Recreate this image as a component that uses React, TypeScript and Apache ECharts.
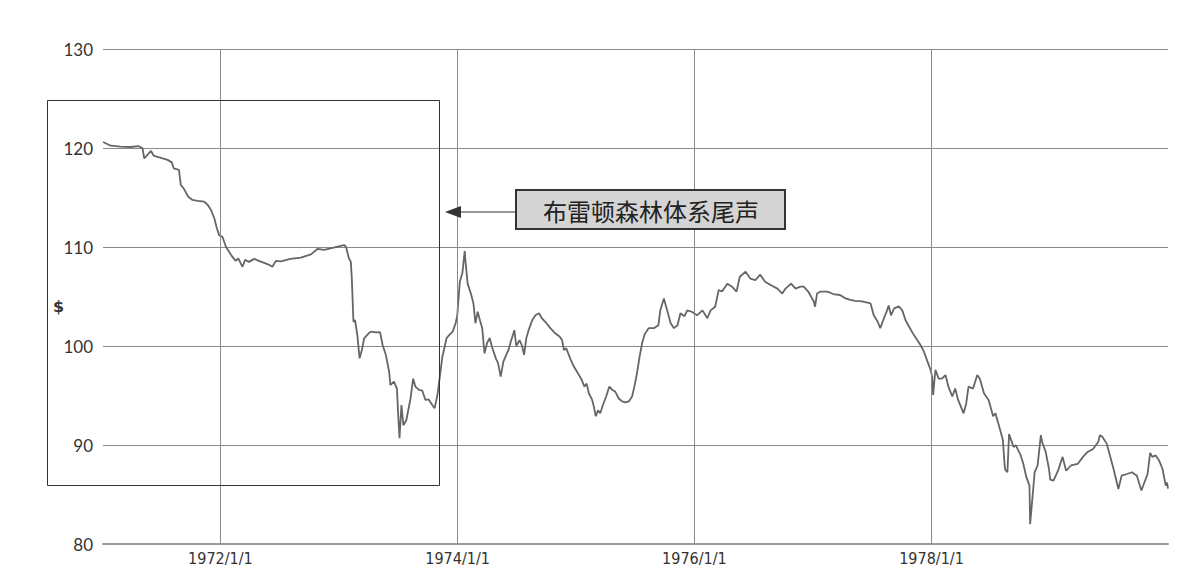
import React, { useEffect, useRef } from "react";
import * as echarts from "echarts";

// Y axis scale
const yMin = 80;
const yMax = 130;
const yStep = 10;

// X axis range and labelled dates
const xStart = "1971-01-04";
const xEnd = "1979-12-31";
const yearMarks = ["1972-01-01", "1974-01-01", "1976-01-01", "1978-01-01"];

const axisName = "$";
const calloutText = "布雷顿森林体系尾声";

// Dollar index, 1971-1979: [date, value]
const dollarIndex: [string, number][] = [
  ["1971-01-04", 120.6], ["1971-01-28", 120.23], ["1971-02-26", 120.13], ["1971-03-31", 120.1],
  ["1971-04-23", 120.2], ["1971-05-06", 119.97], ["1971-05-11", 118.96], ["1971-05-21", 119.3],
  ["1971-06-01", 119.7], ["1971-06-10", 119.2], ["1971-07-02", 119.0], ["1971-07-22", 118.8],
  ["1971-08-04", 118.55], ["1971-08-10", 117.95], ["1971-08-26", 117.8], ["1971-09-01", 116.26],
  ["1971-09-10", 115.9], ["1971-09-24", 115.08], ["1971-10-07", 114.75], ["1971-10-22", 114.65],
  ["1971-11-12", 114.58], ["1971-11-23", 114.24], ["1971-12-03", 113.74], ["1971-12-13", 112.9],
  ["1971-12-21", 111.9], ["1971-12-28", 111.2],
  ["1972-01-07", 111.04], ["1972-01-18", 110.03], ["1972-01-28", 109.5], ["1972-02-07", 109.0],
  ["1972-02-17", 108.6], ["1972-02-25", 108.86], ["1972-03-09", 108.0], ["1972-03-17", 108.7],
  ["1972-03-29", 108.5], ["1972-04-14", 108.8], ["1972-04-28", 108.6], ["1972-05-15", 108.4],
  ["1972-05-30", 108.2], ["1972-06-09", 108.0], ["1972-06-20", 108.6], ["1972-07-05", 108.55],
  ["1972-08-04", 108.8], ["1972-09-05", 108.92], ["1972-10-06", 109.26], ["1972-10-26", 109.8],
  ["1972-11-16", 109.7], ["1972-12-15", 109.93],
  ["1973-01-16", 110.2], ["1973-01-22", 110.03], ["1973-01-31", 108.86], ["1973-02-06", 108.5],
  ["1973-02-09", 106.8], ["1973-02-14", 102.45], ["1973-02-19", 102.6], ["1973-02-26", 101.1],
  ["1973-03-05", 98.75], ["1973-03-12", 99.6], ["1973-03-19", 100.78], ["1973-04-02", 101.28],
  ["1973-04-09", 101.45], ["1973-04-24", 101.38], ["1973-05-07", 101.4], ["1973-05-15", 100.1],
  ["1973-05-25", 99.1], ["1973-06-04", 97.4], ["1973-06-08", 96.06], ["1973-06-19", 96.4],
  ["1973-06-28", 95.7], ["1973-07-02", 93.03], ["1973-07-06", 90.68], ["1973-07-12", 94.04],
  ["1973-07-18", 92.0], ["1973-07-27", 92.5], ["1973-08-09", 94.7], ["1973-08-17", 96.7],
  ["1973-08-24", 95.9], ["1973-09-04", 95.56], ["1973-09-14", 95.5], ["1973-09-24", 94.55],
  ["1973-10-04", 94.6], ["1973-10-15", 94.04], ["1973-10-22", 93.7], ["1973-10-31", 95.05],
  ["1973-11-08", 97.07], ["1973-11-15", 98.9], ["1973-11-20", 99.6], ["1973-11-28", 100.78],
  ["1973-12-06", 101.1], ["1973-12-17", 101.45], ["1973-12-26", 102.3], ["1973-12-31", 103.1],
  ["1974-01-08", 106.5], ["1974-01-16", 107.4], ["1974-01-23", 109.6], ["1974-01-25", 108.7],
  ["1974-02-01", 106.3], ["1974-02-11", 105.3], ["1974-02-19", 104.3], ["1974-02-25", 102.3],
  ["1974-03-04", 103.46], ["1974-03-11", 102.6], ["1974-03-18", 101.8], ["1974-03-25", 99.26],
  ["1974-04-02", 100.3], ["1974-04-10", 100.8], ["1974-04-17", 99.93], ["1974-04-29", 98.75],
  ["1974-05-06", 98.25], ["1974-05-14", 96.9], ["1974-05-22", 98.4], ["1974-05-31", 99.1],
  ["1974-06-07", 99.6], ["1974-06-14", 100.43], ["1974-06-25", 101.6], ["1974-07-01", 100.0],
  ["1974-07-11", 100.6], ["1974-07-19", 100.0], ["1974-07-25", 99.1], ["1974-08-01", 100.8],
  ["1974-08-08", 101.6], ["1974-08-19", 102.6], ["1974-08-29", 103.1], ["1974-09-09", 103.3],
  ["1974-09-18", 102.8], ["1974-10-02", 102.3], ["1974-10-14", 101.8], ["1974-10-29", 101.28],
  ["1974-11-12", 100.94], ["1974-11-19", 100.6], ["1974-11-25", 99.6], ["1974-12-02", 99.77],
  ["1974-12-16", 98.6], ["1974-12-26", 97.9],
  ["1975-01-07", 97.24], ["1975-01-17", 96.7], ["1975-01-27", 95.9], ["1975-02-03", 96.2],
  ["1975-02-10", 95.2], ["1975-02-20", 94.55], ["1975-02-25", 93.9], ["1975-03-03", 92.9],
  ["1975-03-10", 93.5], ["1975-03-17", 93.2], ["1975-03-25", 94.04], ["1975-04-04", 94.9],
  ["1975-04-14", 95.9], ["1975-04-23", 95.56], ["1975-05-02", 95.4], ["1975-05-13", 94.7],
  ["1975-05-23", 94.4], ["1975-06-03", 94.3], ["1975-06-13", 94.4], ["1975-06-23", 94.9],
  ["1975-06-30", 95.9], ["1975-07-08", 97.24], ["1975-07-16", 98.9], ["1975-07-24", 100.3],
  ["1975-08-01", 101.2], ["1975-08-13", 101.8], ["1975-08-29", 101.8], ["1975-09-12", 102.1],
  ["1975-09-18", 103.6], ["1975-09-29", 104.8], ["1975-10-09", 103.6], ["1975-10-20", 102.3],
  ["1975-10-30", 101.8], ["1975-11-10", 102.1], ["1975-11-19", 103.3], ["1975-12-01", 103.0],
  ["1975-12-10", 103.6], ["1975-12-24", 103.46],
  ["1976-01-09", 103.1], ["1976-01-26", 103.6], ["1976-02-10", 102.8], ["1976-02-20", 103.6],
  ["1976-03-05", 103.97], ["1976-03-16", 105.66], ["1976-03-26", 105.5], ["1976-04-12", 106.3],
  ["1976-04-26", 105.99], ["1976-05-10", 105.5], ["1976-05-20", 107.0], ["1976-06-07", 107.5],
  ["1976-06-22", 106.8], ["1976-07-07", 106.66], ["1976-07-22", 107.2], ["1976-08-06", 106.5],
  ["1976-08-23", 106.16], ["1976-09-13", 105.8], ["1976-09-28", 105.3], ["1976-10-08", 105.8],
  ["1976-10-25", 106.3], ["1976-11-08", 105.8], ["1976-11-23", 106.0], ["1976-12-03", 106.0],
  ["1976-12-17", 105.5],
  ["1977-01-03", 104.5], ["1977-01-07", 103.97], ["1977-01-13", 105.3], ["1977-01-24", 105.5],
  ["1977-02-14", 105.5], ["1977-03-04", 105.25], ["1977-03-25", 105.15], ["1977-04-11", 104.8],
  ["1977-04-26", 104.65], ["1977-05-11", 104.55], ["1977-06-01", 104.5], ["1977-06-27", 104.3],
  ["1977-07-07", 103.1], ["1977-07-19", 102.45], ["1977-07-27", 101.8], ["1977-08-05", 102.6],
  ["1977-08-17", 103.6], ["1977-08-22", 104.1], ["1977-08-29", 103.1], ["1977-09-08", 103.8],
  ["1977-09-22", 104.0], ["1977-10-03", 103.6], ["1977-10-13", 102.6], ["1977-10-24", 101.95],
  ["1977-11-04", 101.3], ["1977-11-18", 100.6], ["1977-11-28", 100.1], ["1977-12-09", 99.4],
  ["1977-12-20", 98.4], ["1977-12-29", 97.6],
  ["1978-01-03", 96.9], ["1978-01-06", 95.05], ["1978-01-13", 97.6], ["1978-01-23", 96.7],
  ["1978-02-02", 96.7], ["1978-02-13", 97.07], ["1978-02-22", 95.9], ["1978-03-06", 94.9],
  ["1978-03-15", 95.7], ["1978-03-24", 94.55], ["1978-04-10", 93.2], ["1978-04-18", 94.2],
  ["1978-04-25", 95.9], ["1978-05-09", 95.7], ["1978-05-22", 97.07], ["1978-05-30", 96.7],
  ["1978-06-12", 95.2], ["1978-06-26", 94.55], ["1978-07-10", 92.9], ["1978-07-17", 93.2],
  ["1978-07-31", 91.6], ["1978-08-09", 90.5], ["1978-08-14", 88.14], ["1978-08-16", 87.5],
  ["1978-08-23", 87.25], ["1978-08-28", 91.1], ["1978-09-11", 89.8], ["1978-09-18", 89.97],
  ["1978-10-03", 88.95], ["1978-10-11", 88.1], ["1978-10-20", 86.8], ["1978-10-30", 85.9],
  ["1978-11-01", 82.0], ["1978-11-15", 87.25], ["1978-11-24", 87.93], ["1978-12-04", 91.0],
  ["1978-12-08", 90.3], ["1978-12-19", 89.3], ["1978-12-29", 87.6],
  ["1979-01-02", 86.5], ["1979-01-12", 86.4], ["1979-01-26", 87.4], ["1979-02-09", 88.8],
  ["1979-02-20", 87.4], ["1979-03-07", 87.93], ["1979-03-28", 88.1], ["1979-04-13", 88.8],
  ["1979-04-27", 89.3], ["1979-05-14", 89.6], ["1979-05-30", 90.3], ["1979-06-04", 91.0],
  ["1979-06-12", 90.8], ["1979-06-25", 90.14], ["1979-07-05", 88.95], ["1979-07-16", 87.6],
  ["1979-07-31", 85.56], ["1979-08-10", 86.9], ["1979-08-27", 87.07], ["1979-09-11", 87.25],
  ["1979-09-26", 86.9], ["1979-10-10", 85.4], ["1979-10-29", 87.07], ["1979-11-06", 89.2],
  ["1979-11-13", 88.8], ["1979-11-23", 88.95], ["1979-12-04", 88.4], ["1979-12-14", 87.6],
  ["1979-12-24", 85.9], ["1979-12-28", 86.2], ["1979-12-31", 85.6],
];

const toTime = (s: string) => {
  const [y, m, d] = s.split("-").map(Number);
  return new Date(y, m - 1, d).getTime();
};

const formatDate = (v: number) => {
  const d = new Date(v);
  return `${d.getFullYear()}/${d.getMonth() + 1}/${d.getDate()}`;
};

const markedLabels = new Set(yearMarks.map((s) => formatDate(toTime(s))));

export default function App() {
  const ref = useRef<HTMLDivElement>(null);

  useEffect(() => {
    if (!ref.current) return;
    const chart = echarts.init(ref.current, null, { renderer: "svg" });

    chart.setOption({
      animation: false,
      backgroundColor: "#ffffff",
      grid: { left: 103, right: 29, top: 49, bottom: 43, containLabel: false },
      xAxis: {
        type: "time",
        min: toTime(xStart),
        max: toTime(xEnd),
        axisLine: { show: true, lineStyle: { color: "#9a9a9a", width: 2 } },
        axisTick: { show: false },
        splitLine: { show: false },
        axisLabel: {
          formatter: (v: number) => {
            const s = formatDate(v);
            return markedLabels.has(s) ? s : "";
          },
          showMinLabel: false,
          showMaxLabel: false,
          hideOverlap: false,
          color: "#333",
          fontSize: 16,
          margin: 6,
          fontFamily: "'Liberation Sans Narrow', 'DejaVu Sans Condensed', 'Roboto Condensed', Roboto, sans-serif",
        },
      },
      yAxis: {
        type: "value",
        min: yMin,
        max: yMax,
        interval: yStep,
        axisLine: { show: false },
        axisTick: { show: false },
        axisLabel: {
          color: "#333",
          fontSize: 17,
          margin: 10,
          fontFamily: "Lato, 'Open Sans', sans-serif",
        },
        splitLine: { show: true, lineStyle: { color: "#8a8a8a", width: 1 } },
      },
      graphic: [
        {
          type: "text",
          left: 53,
          top: 298,
          style: { text: axisName, fontSize: 16, fontWeight: "bold", fill: "#333", fontFamily: "'DejaVu Sans', sans-serif" },
        },
        {
          type: "rect",
          shape: { x: 47.5, y: 100.5, width: 392, height: 385 },
          style: { fill: "none", stroke: "#333", lineWidth: 1 },
          z: 10,
        },
        {
          type: "line",
          shape: { x1: 455, y1: 212, x2: 516, y2: 212 },
          style: { stroke: "#333", lineWidth: 1 },
          z: 10,
        },
        {
          type: "polygon",
          shape: { points: [[445, 212], [461, 206], [461, 218]] },
          style: { fill: "#333" },
          z: 10,
        },
        {
          type: "rect",
          shape: { x: 516, y: 190, width: 269, height: 39 },
          style: { fill: "#d4d4d4", stroke: "#333", lineWidth: 2 },
          z: 10,
        },
        {
          type: "text",
          x: 651,
          y: 210,
          style: {
            text: calloutText,
            fontSize: 24,
            fill: "#222",
            align: "center",
            verticalAlign: "middle",
            fontFamily: "'Noto Sans CJK SC', sans-serif",
          },
          z: 11,
        },
      ],
      series: [
        {
          type: "line",
          data: dollarIndex.map(([d, v]) => [toTime(d), v]),
          showSymbol: false,
          symbol: "none",
          lineStyle: { color: "#666", width: 1.8 },
          markLine: {
            silent: true,
            symbol: ["none", "none"],
            label: { show: false },
            lineStyle: { color: "#8a8a8a", width: 1, type: "solid" },
            data: yearMarks.map((d) => ({ xAxis: toTime(d) })),
          },
        },
      ],
    });

    return () => chart.dispose();
  }, []);

  return (
    <div
      ref={ref}
      style={{ position: "fixed", left: 0, top: 0, width: 1197, height: 587 }}
    />
  );
}
